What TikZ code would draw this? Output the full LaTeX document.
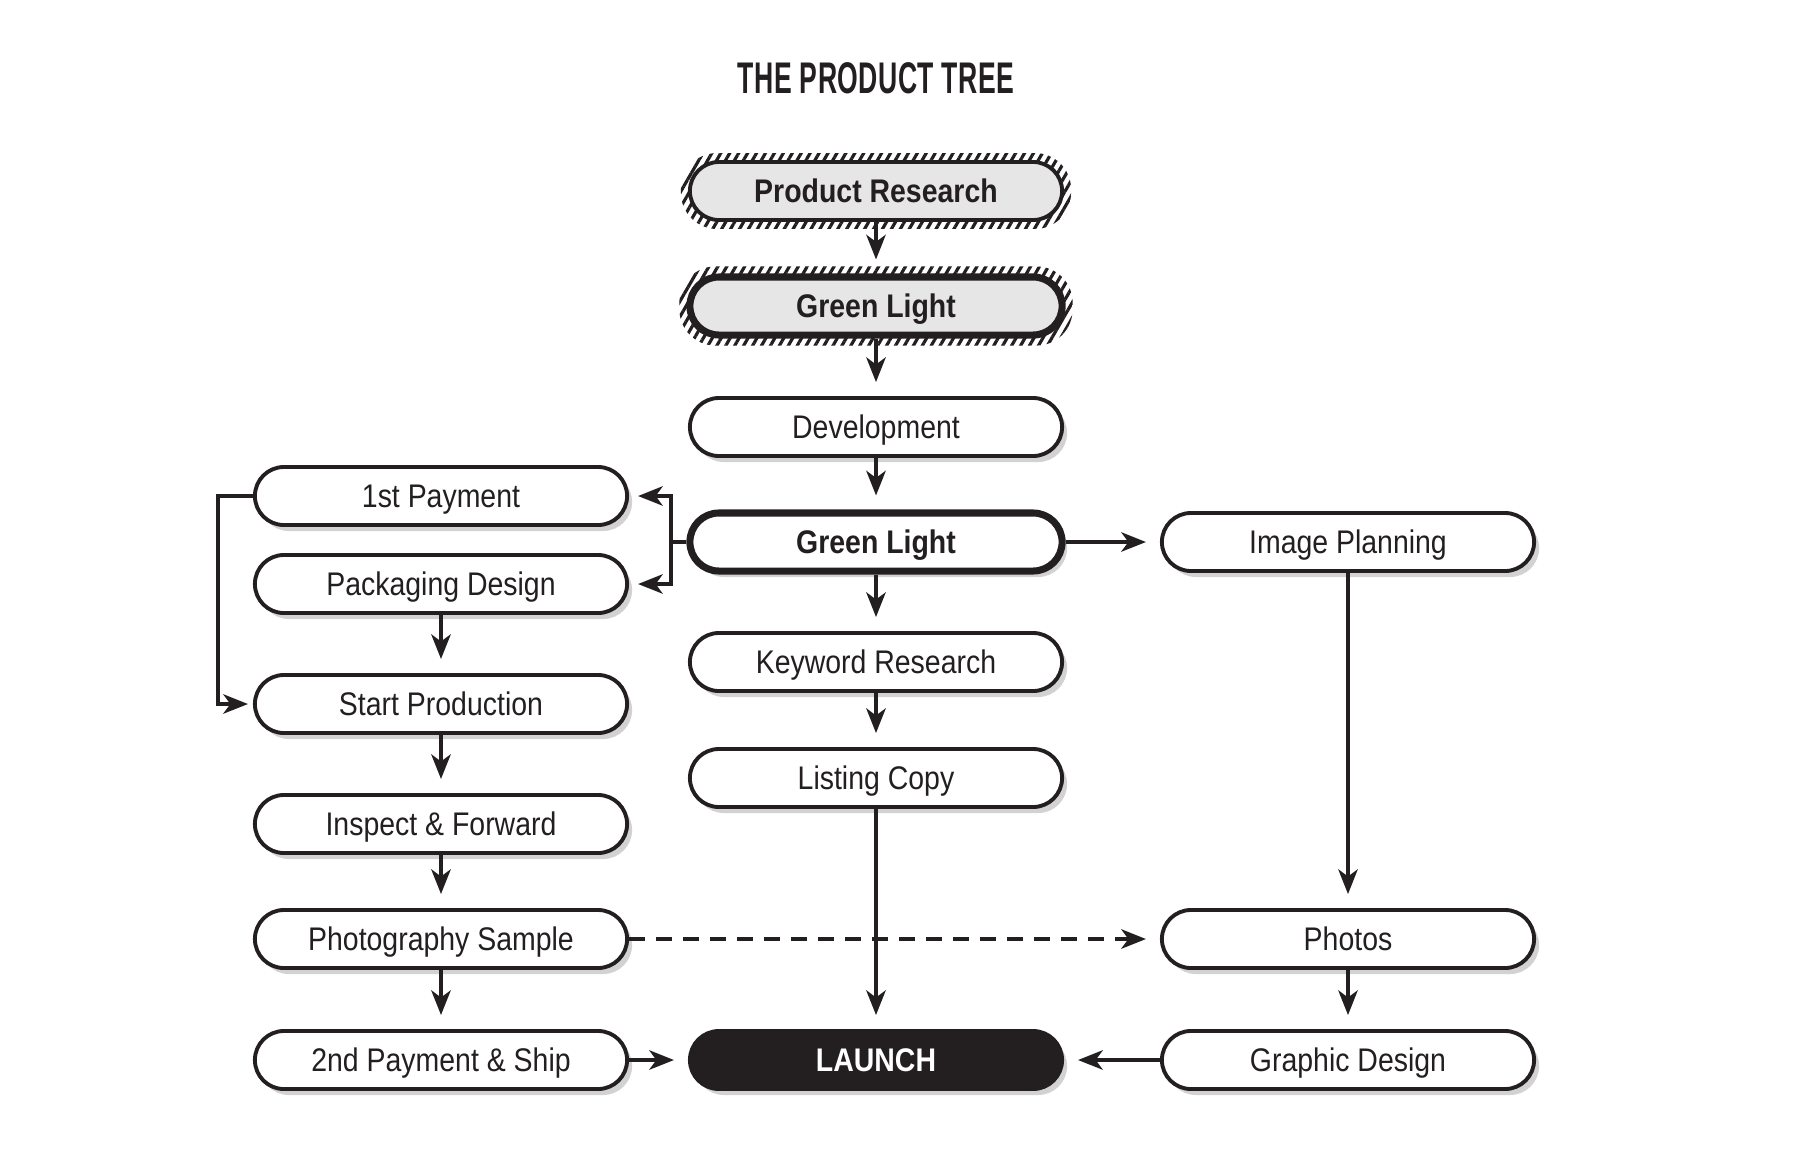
\documentclass[tikz,border=0pt]{standalone}
\usepackage{fontspec}
\setmainfont{Liberation Sans}[FakeStretch=0.87]
\newfontfamily\titlefont{Liberation Sans}[FakeStretch=0.6,LetterSpace=1]
\usetikzlibrary{arrows.meta,positioning,shadows,patterns.meta,fit,backgrounds}
\definecolor{ink}{HTML}{231F20}
\definecolor{boxgray}{HTML}{E6E6E6}
\definecolor{shade}{HTML}{D2D2D2}

\begin{document}
\begin{tikzpicture}[x=0.01cm, y=-0.01cm, text=ink,
  pill/.style={rectangle, rounded corners=0.29cm, draw=ink, line width=1.1pt, fill=white, minimum width=3.72cm, minimum height=0.58cm, inner sep=0pt, text height=6.7pt, text depth=0pt, font=\fontsize{9.3}{10}\selectfont},
  box/.style={pill, drop shadow={shadow xshift=0.05cm, shadow yshift=-0.06cm, fill=shade, opacity=1}},
  bold/.style={font=\fontsize{9.3}{10}\selectfont\bfseries},
  hatch/.style={inner sep=0.07cm, rounded corners=0.36cm, pattern={Lines[angle=60,distance=2.2pt,line width=0.9pt]}, pattern color=ink},
  arr/.style={draw=ink, line width=1.1pt, -{Stealth[length=7pt,width=5.5pt,inset=2pt]}, shorten >=0.14cm}]
\useasboundingbox (0,0) rectangle (1800,1154);

\node[font=\titlefont\fontsize{12.6}{14}\selectfont\bfseries] (title) at (876,78) {THE PRODUCT TREE};

% center column
\node[pill, bold, fill=boxgray] (pr) at (876,191) {Product Research};
\node[pill, bold, fill=boxgray, line width=2pt] (gl1) at (876,306) {Green Light};
\node[box] (dev) at (876,427) {Development};
\node[box, bold, line width=2pt] (gl2) at (876,542) {Green Light};
\node[box] (kw) at (876,662) {Keyword Research};
\node[box] (copy) at (876,778) {Listing Copy};
\node[box, bold, fill=ink, text=white] (launch) at (876,1060) {LAUNCH};

% left column
\node[box] (pay1) at (441,496) {1st Payment};
\node[box] (pack) at (441,584) {Packaging Design};
\node[box] (start) at (441,704) {Start Production};
\node[box] (insp) at (441,824) {Inspect \& Forward};
\node[box] (sample) at (441,939) {Photography Sample};
\node[box] (pay2) at (441,1060) {2nd Payment \& Ship};

% right column
\node[box] (plan) at (1348,542) {Image Planning};
\node[box] (photos) at (1348,939) {Photos};
\node[box] (gfx) at (1348,1060) {Graphic Design};

\begin{scope}[on background layer]
\node[hatch, fit=(pr)] (prh) {};
\node[hatch, fit=(gl1)] (gl1h) {};
\end{scope}

\coordinate (brk) at (671,542);
\coordinate (loop) at (218,496);

\draw[arr] (pr) -- (gl1);
\draw[arr] (gl1) -- (dev);
\draw[arr] (dev) -- (gl2);
\draw[arr] (gl2) -- (kw);
\draw[arr] (kw) -- (copy);
\draw[arr] (copy) -- (launch);
\draw[arr] (gl2) -- (plan);
\draw[arr, shorten >=0.09cm] (gl2.west) -- (brk) |- (pay1.east);
\draw[arr, shorten >=0.09cm] (brk) |- (pack.east);
\draw[arr, shorten >=0.05cm] (pay1.west) -- (loop) |- (start.west);
\draw[arr] (pack) -- (start);
\draw[arr] (start) -- (insp);
\draw[arr] (insp) -- (sample);
\draw[arr] (sample) -- (pay2);
\draw[arr] (pay2) -- (launch);
\draw[arr, dash pattern=on 0.16cm off 0.11cm] (sample) -- (photos);
\draw[arr] (plan) -- (photos);
\draw[arr] (photos) -- (gfx);
\draw[arr] (gfx) -- (launch);
\end{tikzpicture}
\end{document}
